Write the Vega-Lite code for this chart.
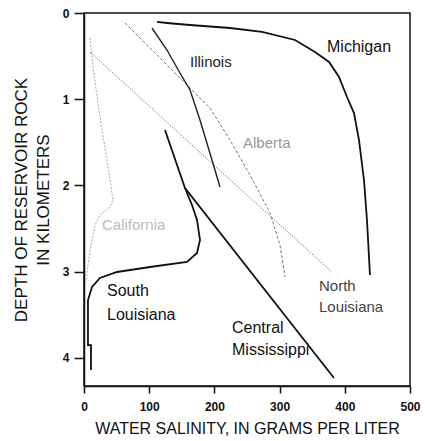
{
  "$schema": "https://vega.github.io/schema/vega-lite/v6.json",
  "width": 326,
  "height": 373,
  "autosize": {"type": "none"},
  "padding": {"left": 84, "top": 13, "right": 15, "bottom": 55},
  "background": "white",
  "config": {
    "font": "Liberation Sans",
    "view": {"stroke": "#111", "strokeWidth": 1.5}
  },
  "datasets": {
    "lines": [
      {"basin": "Michigan", "i": 1, "salinity": 112.0, "depth": 0.104},
      {"basin": "Michigan", "i": 2, "salinity": 127.3, "depth": 0.116},
      {"basin": "Michigan", "i": 3, "salinity": 162.6, "depth": 0.139},
      {"basin": "Michigan", "i": 4, "salinity": 223.9, "depth": 0.174},
      {"basin": "Michigan", "i": 5, "salinity": 273.0, "depth": 0.220},
      {"basin": "Michigan", "i": 6, "salinity": 323.6, "depth": 0.313},
      {"basin": "Michigan", "i": 7, "salinity": 354.3, "depth": 0.452},
      {"basin": "Michigan", "i": 8, "salinity": 375.8, "depth": 0.568},
      {"basin": "Michigan", "i": 9, "salinity": 391.1, "depth": 0.742},
      {"basin": "Michigan", "i": 10, "salinity": 403.4, "depth": 0.974},
      {"basin": "Michigan", "i": 11, "salinity": 414.1, "depth": 1.160},
      {"basin": "Michigan", "i": 12, "salinity": 421.8, "depth": 1.473},
      {"basin": "Michigan", "i": 13, "salinity": 429.4, "depth": 1.936},
      {"basin": "Michigan", "i": 14, "salinity": 434.0, "depth": 2.400},
      {"basin": "Michigan", "i": 15, "salinity": 438.6, "depth": 3.038},
      {"basin": "Illinois", "i": 1, "salinity": 104.3, "depth": 0.174},
      {"basin": "Illinois", "i": 2, "salinity": 127.3, "depth": 0.429},
      {"basin": "Illinois", "i": 3, "salinity": 147.2, "depth": 0.696},
      {"basin": "Illinois", "i": 4, "salinity": 162.6, "depth": 0.893},
      {"basin": "Illinois", "i": 5, "salinity": 177.9, "depth": 1.241},
      {"basin": "Illinois", "i": 6, "salinity": 196.3, "depth": 1.704},
      {"basin": "Illinois", "i": 7, "salinity": 208.6, "depth": 2.018},
      {"basin": "Alberta", "i": 1, "salinity": 62.9, "depth": 0.116},
      {"basin": "Alberta", "i": 2, "salinity": 116.6, "depth": 0.522},
      {"basin": "Alberta", "i": 3, "salinity": 165.6, "depth": 0.893},
      {"basin": "Alberta", "i": 4, "salinity": 193.2, "depth": 1.102},
      {"basin": "Alberta", "i": 5, "salinity": 223.9, "depth": 1.473},
      {"basin": "Alberta", "i": 6, "salinity": 254.6, "depth": 1.878},
      {"basin": "Alberta", "i": 7, "salinity": 285.3, "depth": 2.319},
      {"basin": "Alberta", "i": 8, "salinity": 300.6, "depth": 2.690},
      {"basin": "Alberta", "i": 9, "salinity": 308.3, "depth": 3.061},
      {"basin": "North Louisiana", "i": 1, "salinity": 9.2, "depth": 0.452},
      {"basin": "North Louisiana", "i": 2, "salinity": 202.4, "depth": 1.786},
      {"basin": "North Louisiana", "i": 3, "salinity": 380.4, "depth": 3.003},
      {"basin": "California", "i": 1, "salinity": 9.2, "depth": 0.290},
      {"basin": "California", "i": 2, "salinity": 13.8, "depth": 0.626},
      {"basin": "California", "i": 3, "salinity": 24.5, "depth": 1.206},
      {"basin": "California", "i": 4, "salinity": 35.3, "depth": 1.704},
      {"basin": "California", "i": 5, "salinity": 44.5, "depth": 2.168},
      {"basin": "California", "i": 6, "salinity": 39.9, "depth": 2.249},
      {"basin": "California", "i": 7, "salinity": 24.5, "depth": 2.342},
      {"basin": "California", "i": 8, "salinity": 16.9, "depth": 2.458},
      {"basin": "California", "i": 9, "salinity": 10.7, "depth": 2.690},
      {"basin": "California", "i": 10, "salinity": 6.1, "depth": 2.922},
      {"basin": "California", "i": 11, "salinity": 3.1, "depth": 3.119},
      {"basin": "South Louisiana", "i": 1, "salinity": 154.9, "depth": 2.029},
      {"basin": "South Louisiana", "i": 2, "salinity": 165.6, "depth": 2.226},
      {"basin": "South Louisiana", "i": 3, "salinity": 173.3, "depth": 2.400},
      {"basin": "South Louisiana", "i": 4, "salinity": 177.9, "depth": 2.632},
      {"basin": "South Louisiana", "i": 5, "salinity": 173.3, "depth": 2.783},
      {"basin": "South Louisiana", "i": 6, "salinity": 158.0, "depth": 2.887},
      {"basin": "South Louisiana", "i": 7, "salinity": 101.2, "depth": 2.945},
      {"basin": "South Louisiana", "i": 8, "salinity": 50.6, "depth": 3.003},
      {"basin": "South Louisiana", "i": 9, "salinity": 24.5, "depth": 3.073},
      {"basin": "South Louisiana", "i": 10, "salinity": 12.3, "depth": 3.177},
      {"basin": "South Louisiana", "i": 11, "salinity": 6.1, "depth": 3.328},
      {"basin": "South Louisiana", "i": 12, "salinity": 6.1, "depth": 3.850},
      {"basin": "South Louisiana", "i": 13, "salinity": 10.7, "depth": 3.850},
      {"basin": "South Louisiana", "i": 14, "salinity": 10.7, "depth": 4.139},
      {"basin": "Central Mississippi", "i": 1, "salinity": 124.2, "depth": 1.357},
      {"basin": "Central Mississippi", "i": 2, "salinity": 154.9, "depth": 2.029},
      {"basin": "Central Mississippi", "i": 3, "salinity": 383.4, "depth": 4.232}
    ],
    "labels": [
      {"text": "Michigan", "kind": "bold", "salinity": 372.7, "depth": 0.394},
      {"text": "Illinois", "kind": "small", "salinity": 162.6, "depth": 0.568},
      {"text": "Alberta", "kind": "faint", "salinity": 243.9, "depth": 1.507},
      {"text": "California", "kind": "fainter", "salinity": 27.6, "depth": 2.458},
      {"text": "South", "kind": "bold", "salinity": 35.3, "depth": 3.223},
      {"text": "Louisiana", "kind": "bold", "salinity": 35.3, "depth": 3.502},
      {"text": "Central", "kind": "bold", "salinity": 227.0, "depth": 3.652},
      {"text": "Mississippi", "kind": "bold", "salinity": 227.0, "depth": 3.907},
      {"text": "North", "kind": "thin", "salinity": 360.4, "depth": 3.165},
      {"text": "Louisiana", "kind": "thin", "salinity": 360.4, "depth": 3.409}
    ]
  },
  "encoding": {
    "x": {
      "field": "salinity",
      "type": "quantitative",
      "scale": {"domain": [0, 500], "nice": false, "zero": false},
      "axis": {
        "values": [0, 100, 200, 300, 400, 500],
        "grid": false,
        "domainColor": "#111",
        "domainWidth": 1.5,
        "tickColor": "#111",
        "tickWidth": 1.5,
        "tickSize": 7,
        "labelFontSize": 12,
        "labelFontWeight": "bold",
        "labelColor": "#111",
        "labelPadding": 8,
        "labelFlush": false,
        "title": "WATER SALINITY, IN GRAMS PER LITER",
        "titleFontSize": 16,
        "titleFontWeight": "normal",
        "titleColor": "#111",
        "titlePadding": 8
      }
    },
    "y": {
      "field": "depth",
      "type": "quantitative",
      "scale": {"domain": [0, 4.325], "reverse": true, "nice": false, "zero": false},
      "axis": {
        "values": [0, 1, 2, 3, 4],
        "grid": false,
        "domainColor": "#111",
        "domainWidth": 1.5,
        "tickColor": "#111",
        "tickWidth": 1.5,
        "tickSize": 10,
        "labelFontSize": 12,
        "labelFontWeight": "bold",
        "labelColor": "#111",
        "labelPadding": 5,
        "labelFlush": false,
        "title": ["DEPTH OF RESERVOIR ROCK", "IN KILOMETERS"],
        "titleFontSize": 17,
        "titleFontWeight": "normal",
        "titleColor": "#111",
        "titleLineHeight": 22,
        "titlePadding": 10
      }
    }
  },
  "layer": [
    {
      "data": {"name": "lines"},
      "transform": [{"filter": "datum.basin === 'California'"}],
      "mark": {"type": "line", "color": "#aaaaaa", "strokeWidth": 1, "strokeDash": [2, 1.5]},
      "encoding": {"detail": {"field": "basin"}, "order": {"field": "i"}}
    },
    {
      "data": {"name": "lines"},
      "transform": [{"filter": "datum.basin === 'North Louisiana'"}],
      "mark": {"type": "line", "color": "#555555", "strokeWidth": 0.8, "strokeDash": [1.5, 1.5]},
      "encoding": {"detail": {"field": "basin"}, "order": {"field": "i"}}
    },
    {
      "data": {"name": "lines"},
      "transform": [{"filter": "datum.basin === 'Alberta'"}],
      "mark": {"type": "line", "color": "#666666", "strokeWidth": 0.9, "strokeDash": [3, 2]},
      "encoding": {"detail": {"field": "basin"}, "order": {"field": "i"}}
    },
    {
      "data": {"name": "lines"},
      "transform": [{"filter": "datum.basin === 'Illinois'"}],
      "mark": {"type": "line", "color": "#222222", "strokeWidth": 1.4},
      "encoding": {"detail": {"field": "basin"}, "order": {"field": "i"}}
    },
    {
      "data": {"name": "lines"},
      "transform": [{"filter": "datum.basin === 'Michigan' || datum.basin === 'South Louisiana' || datum.basin === 'Central Mississippi'"}],
      "mark": {"type": "line", "color": "#111111", "strokeWidth": 1.8},
      "encoding": {"detail": {"field": "basin"}, "order": {"field": "i"}}
    },
    {
      "data": {"name": "labels"},
      "transform": [{"filter": "datum.kind === 'bold'"}],
      "mark": {"type": "text", "align": "left", "baseline": "middle", "fontSize": 16, "color": "#111"},
      "encoding": {"text": {"field": "text"}}
    },
    {
      "data": {"name": "labels"},
      "transform": [{"filter": "datum.kind === 'small'"}],
      "mark": {"type": "text", "align": "left", "baseline": "middle", "fontSize": 15, "color": "#222"},
      "encoding": {"text": {"field": "text"}}
    },
    {
      "data": {"name": "labels"},
      "transform": [{"filter": "datum.kind === 'thin'"}],
      "mark": {"type": "text", "align": "left", "baseline": "middle", "fontSize": 15, "color": "#444"},
      "encoding": {"text": {"field": "text"}}
    },
    {
      "data": {"name": "labels"},
      "transform": [{"filter": "datum.kind === 'faint'"}],
      "mark": {"type": "text", "align": "left", "baseline": "middle", "fontSize": 15, "color": "#999"},
      "encoding": {"text": {"field": "text"}}
    },
    {
      "data": {"name": "labels"},
      "transform": [{"filter": "datum.kind === 'fainter'"}],
      "mark": {"type": "text", "align": "left", "baseline": "middle", "fontSize": 15, "color": "#bbb"},
      "encoding": {"text": {"field": "text"}}
    }
  ]
}
